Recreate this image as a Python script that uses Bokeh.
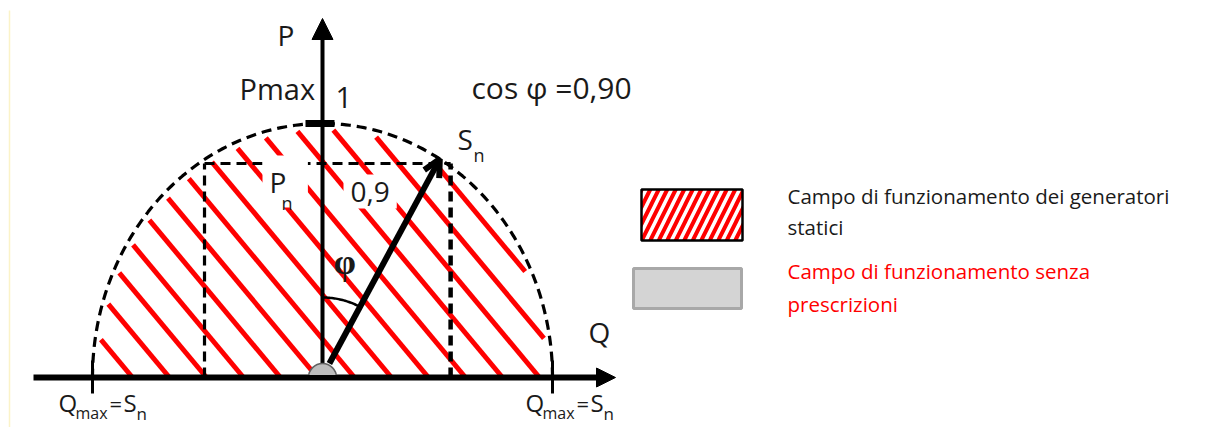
import numpy as np
from bokeh.plotting import figure
from bokeh.models import Range1d, Label, Arrow, NormalHead, OpenHead
from bokeh.embed import file_html
from bokeh.resources import INLINE

# ---- diagram data (units: S_n = 1) ----
S_n = 1.0                      # radius of the capability half-circle
sn_point = [0.51, 0.86]        # tip of S_n vector (as drawn)
rect_q = [-0.513, 0.557]       # dashed rectangle, Q edges
rect_p = 0.8425                # dashed rectangle, top (P_n)
P_max = 1.0
Q_max = [-1.0, 1.0]
phi_deg = 28                   # drawn angle of phi (schematic)
labels_main = {"P": "P", "Q": "Q", "Pmax": "Pmax", "one": "1",
               "cos": "cos \u03c6 =0,90", "pn_val": "0,9", "phi": "\u03c6"}
legend_texts = [["Campo di funzionamento  dei generatori", "statici"],
                ["Campo di funzionamento  senza", "prescrizioni"]]

# reference pixel <-> data helpers (for label placement only)
def dq(X):
    return (X - 322) / 230.0

def dp(Y):
    return (377 - Y) / 254.0

W, H = 1200, 427
p = figure(width=W, height=H, output_backend="svg", toolbar_location=None,
           x_range=Range1d(dq(0), dq(W)), y_range=Range1d(dp(H), dp(0)),
           min_border=0)
p.axis.visible = False
p.grid.visible = False
p.outline_line_color = None
p.background_fill_color = "white"
p.border_fill_color = "white"

RED = "#ff0000"
INK = "#1a1a1a"

# faint left border of the original
p.segment(x0=[dq(9)], y0=[dp(10)], x1=[dq(9)], y1=[dp(435)], line_color="#fbf3c8", line_width=1.5)

# ---- red hatch lines inside the half circle ----
slope_px = 1.2
m = slope_px * 230 / 254.0
r = 0.975 * S_n
spacing = 37 / 230.0
start = dq(132)
x0s, y0s, x1s, y1s = [], [], [], []
q0 = start
while q0 < 1.3:
    a = 1 + m * m
    b = -2 * m * m * q0
    c = m * m * q0 * q0 - r * r
    disc = b * b - 4 * a * c
    if disc > 0:
        qa = (-b - np.sqrt(disc)) / (2 * a)
        qb = (-b + np.sqrt(disc)) / (2 * a)
        pa = -m * (qa - q0)
        if q0 <= r:
            qe, pe = q0, 0.0
        else:
            qe, pe = qb, -m * (qb - q0)
        x0s.append(qa); y0s.append(pa); x1s.append(qe); y1s.append(pe)
    q0 += spacing
p.segment(x0=x0s, y0=y0s, x1=x1s, y1=y1s, line_color=RED, line_width=5)

# ---- dashed half circle ----
th = np.linspace(0, np.pi, 200)
p.line(S_n * np.cos(th), S_n * np.sin(th), line_color="black", line_width=3.2, line_dash="10 6")

# ---- dashed rectangle ----
p.line([rect_q[0], rect_q[1]], [rect_p, rect_p], line_color="black", line_width=3.2, line_dash="10 6")
p.line([rect_q[0], rect_q[0]], [0, rect_p], line_color="black", line_width=3.2, line_dash="10 6")
p.line([rect_q[1], rect_q[1]], [0, rect_p], line_color="black", line_width=4.5, line_dash="10 6")

# ---- labels with white background ----
p.add_layout(Label(x=dq(262), y=dp(207), text="P  ", text_font="Open Sans", text_font_size="28px",
                   text_color=INK, background_fill_color="white", padding=7))
p.add_layout(Label(x=dq(281), y=dp(214), text="n", text_font="Open Sans", text_font_size="18px",
                   text_color=INK))
p.add_layout(Label(x=dq(343), y=dp(208), text=labels_main["pn_val"], text_font="Open Sans",
                   text_font_size="28px", text_color=INK, background_fill_color="white", padding=7))

# ---- angle arc ----
t = np.radians(np.linspace(0, phi_deg, 30))
p.line(80 * np.sin(t) / 230.0, 80 * np.cos(t) / 254.0, line_color="black", line_width=2.5)
p.add_layout(Label(x=dq(333), y=dp(281), text=labels_main["phi"], text_font="Liberation Serif",
                   text_font_style="bold", text_font_size="36px", text_color=INK))

# ---- axes ----
p.add_layout(Arrow(x_start=dq(33), y_start=0, x_end=dq(615), y_end=0, line_width=6, line_color="black",
                   end=NormalHead(size=19, fill_color="black", line_color="black", line_width=1)))
p.add_layout(Arrow(x_start=0, y_start=0.05, x_end=0, y_end=dp(18), line_width=4, line_color="black",
                   end=NormalHead(size=21, fill_color="black", line_color="black", line_width=1)))
# Q max ticks
p.segment(x0=Q_max, y0=[dp(360)] * 2, x1=Q_max, y1=[dp(393)] * 2, line_color="black", line_width=3)
# P max bar
p.segment(x0=[dq(305)], y0=[P_max], x1=[dq(334)], y1=[P_max], line_color="black", line_width=7)

# S_n vector
p.add_layout(Arrow(x_start=0.03, y_start=0.055, x_end=sn_point[0], y_end=sn_point[1], line_width=6,
                   line_color="black",
                   end=OpenHead(size=17, line_color="black", line_width=6)))

# origin dome (on top of the shafts)
dome = p.wedge(x=[0], y=[0], radius=14, radius_units="screen", start_angle=0, end_angle=np.pi,
               fill_color="#bdbdbd", line_color="#606060", line_width=1.5)
dome.level = "overlay"
ax_patch = p.segment(x0=[dq(300)], y0=[0], x1=[dq(345)], y1=[0], line_color="black", line_width=5)
ax_patch.level = "overlay"

# ---- main labels ----
def lab(text, X, Y, size, color=INK, font="Open Sans", style="normal"):
    p.add_layout(Label(x=dq(X), y=dp(Y), text=text, text_font=font, text_font_size=size,
                       text_color=color, text_font_style=style))

lab(labels_main["P"], 277, 53, "28px")
lab(labels_main["Pmax"], 239, 107, "29px")
lab(labels_main["one"], 335, 107, "29px")
lab(labels_main["cos"], 471, 107, "30px")
lab("S", 457, 157, "28px")
lab("n", 473, 166, "18px")
lab(labels_main["Q"], 588, 350, "28px")
for X0 in (58, 525):
    lab("Q", X0, 418, "24px")
    lab("max", X0 + 17, 423, "16px")
    lab("=", X0 + 51, 417, "22px")
    lab("S", X0 + 65, 418, "24px")
    lab("n", X0 + 78, 424, "17px")

# ---- legend ----
p.quad(left=[dq(641)], right=[dq(742)], bottom=[dp(240)], top=[dp(189)], fill_color="white",
       line_color="black", line_width=2.5, hatch_pattern="/", hatch_color=RED,
       hatch_weight=4, hatch_scale=17)
p.quad(left=[dq(633)], right=[dq(741)], bottom=[dp(308)], top=[dp(268)], fill_color="#d4d4d4",
       line_color="#a8a8a8", line_width=3)
lab(legend_texts[0][0], 787, 209, "20.5px")
lab(legend_texts[0][1], 787, 240, "20.5px")
lab(legend_texts[1][0], 787, 284, "20.5px", color=RED)
lab(legend_texts[1][1], 787, 317, "20.5px", color=RED)

open("out.html", "w").write(file_html(p, INLINE))
